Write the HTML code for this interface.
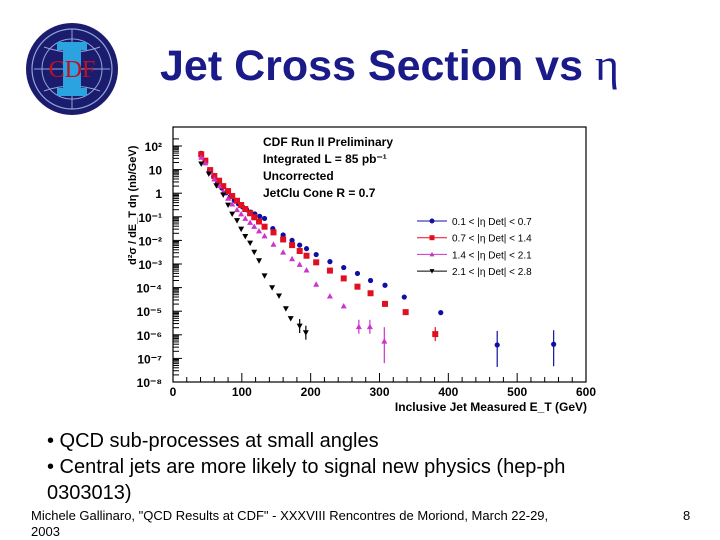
<!DOCTYPE html>
<html><head><meta charset="utf-8"><style>
body{margin:0;width:720px;height:540px;background:#fff;overflow:hidden;font-family:"Liberation Sans",sans-serif;position:relative}
.t{position:absolute;white-space:nowrap}
</style></head><body>
<svg style="position:absolute;left:24px;top:22px" width="96" height="96" viewBox="0 0 96 96">
<circle cx="48" cy="47" r="46" fill="#1c1c6e"/>
<circle cx="48" cy="47" r="40" fill="none" stroke="#8fa6d8" stroke-width="1.2"/>
<circle cx="48" cy="47" r="30" fill="none" stroke="#8fa6d8" stroke-width="1"/>
<path d="M10 47 H86 M48 7 V87 M20 25 Q48 35 76 25 M20 69 Q48 59 76 69" stroke="#8fa6d8" fill="none" stroke-width="1"/>
<rect x="33" y="20" width="30" height="8" fill="#2aa3e0"/>
<rect x="33" y="66" width="30" height="8" fill="#2aa3e0"/>
<rect x="39" y="26" width="18" height="42" fill="#2aa3e0"/>
<text x="48" y="55" text-anchor="middle" font-family="Liberation Serif,serif" font-size="24" fill="#c01020">CDF</text>
</svg>
<div class="t" style="left:160px;top:38px;font-size:43px;font-weight:bold;color:#1a1a88">Jet Cross Section vs <span style="font-family:'Liberation Serif',serif;font-weight:normal;font-size:46px">η</span></div>
<svg id="chart" style="position:absolute;left:0;top:0" width="720" height="540"></svg>
<div class="t" style="left:47px;top:430px;font-size:20px">• QCD sub-processes at small angles</div>
<div class="t" style="left:47px;top:456px;font-size:20px">• Central jets are more likely to signal new physics (hep-ph</div>
<div class="t" style="left:47px;top:482px;font-size:20px">0303013)</div>
<div class="t" style="left:31px;top:508px;font-size:13px;line-height:16px">Michele Gallinaro, "QCD Results at CDF" - XXXVIII Rencontres de Moriond, March 22-29,<br>2003</div>
<div class="t" style="left:683px;top:508px;font-size:13px">8</div>
<script>
const xTicks=[0,100,200,300,400,500,600];
const yTicks=[2,1,0,-1,-2,-3,-4,-5,-6,-7,-8];
const yTickLabels=["10²","10","1","10⁻¹","10⁻²","10⁻³","10⁻⁴","10⁻⁵","10⁻⁶","10⁻⁷","10⁻⁸"];
const seriesNames=["0.1 < |η Det| < 0.7","0.7 < |η Det| < 1.4","1.4 < |η Det| < 2.1","2.1 < |η Det| < 2.8"];
const blueX=[41,47,53,59,65,71,77,83,89,95,101,107,113,119,126,133,145,160,173,184,194,208,228,248,268,287,308,336,389,471,553];
const blueY=[1.69,1.35,0.98,0.7,0.45,0.22,0.02,-0.15,-0.3,-0.45,-0.58,-0.7,-0.8,-0.88,-0.98,-1.07,-1.5,-1.77,-2.0,-2.2,-2.35,-2.6,-2.9,-3.15,-3.4,-3.7,-3.9,-4.4,-5.06,-6.43,-6.4];
const redX=[41,47,54,60,67,73,80,86,93,99,105,112,118,125,133,146,160,173,184,194,208,228,248,268,287,308,338,381];
const redY=[1.65,1.38,0.98,0.73,0.53,0.3,0.09,-0.12,-0.32,-0.5,-0.67,-0.85,-1.02,-1.2,-1.42,-1.66,-1.96,-2.2,-2.45,-2.65,-2.93,-3.28,-3.61,-3.96,-4.24,-4.69,-5.04,-5.97];
const magX=[41,47,54,60,67,73,80,86,93,99,105,112,118,125,133,146,160,173,184,194,208,228,248,270,286,307];
const magY=[1.52,1.28,0.88,0.6,0.32,0.06,-0.22,-0.46,-0.7,-0.88,-1.07,-1.24,-1.41,-1.6,-1.81,-2.17,-2.5,-2.78,-3.02,-3.26,-3.86,-4.36,-4.78,-5.66,-5.66,-6.27];
const blkX=[41,52,63,73,80,86,93,99,105,112,118,125,133,144,154,164,171,184,193];
const blkY=[1.24,0.82,0.32,-0.07,-0.5,-0.88,-1.16,-1.52,-1.83,-2.11,-2.5,-2.86,-3.5,-4.0,-4.35,-4.89,-5.31,-5.63,-5.91];
const NS="http://www.w3.org/2000/svg";
const svg=document.getElementById('chart');
const X0=173,X1=586,Y0=146,Y1=382;
const sx=v=>X0+(v-0)*(X1-X0)/600;
const sy=l=>Y0+(2-l)*(Y1-Y0)/10;
function mk(tag,at,parent){const e=document.createElementNS(NS,tag);for(const k in at)e.setAttribute(k,at[k]);(parent||svg).appendChild(e);return e;}
let fr=mk('rect',{x:X0,y:127,width:X1-X0,height:Y1-127,fill:'none',stroke:'#000','stroke-width':1.2});


for(let v=0;v<=600;v+=20){mk('line',{x1:sx(v),x2:sx(v),y1:Y1,y2:Y1-(v%100?5:9),stroke:'#000'});}
xTicks.forEach(v=>{let t=mk('text',{x:sx(v),y:Y1+14,'text-anchor':'middle','font-size':12,'font-weight':'bold'});t.textContent=v;

});
for(let d=-8;d<=2;d++){for(let m=1;m<10;m++){const l=d+Math.log10(m);if(l>2.4)break;mk('line',{x1:X0,x2:X0+(m==1?9:6),y1:sy(l),y2:sy(l),stroke:'#000','stroke-width':1});}}
yTicks.forEach((v,i)=>{let t=mk('text',{x:162,y:sy(v)+5,'text-anchor':'end','font-size':12,'font-weight':'bold'});t.textContent=yTickLabels[i];

});
let yt=mk('text',{transform:'translate(136,265) rotate(-90)','font-size':11,'font-weight':'bold'});yt.textContent='d²σ / dE_T dη   (nb/GeV)';


let xt=mk('text',{x:587,y:411,'text-anchor':'end','font-size':12,'font-weight':'bold'});xt.textContent='Inclusive Jet Measured E_T   (GeV)';


['CDF Run II Preliminary','Integrated L = 85 pb⁻¹','Uncorrected','JetClu Cone R = 0.7'].forEach((s,i)=>{let t=mk('text',{x:263,y:146+i*17,'font-size':12,'font-weight':'bold'});t.textContent=s;

});
function marker(kind,x,y,c,s){
 if(kind==0)return mk('circle',{cx:x,cy:y,r:s,fill:c});
 if(kind==1)return mk('rect',{x:x-s,y:y-s,width:2*s,height:2*s,fill:c});
 if(kind==2)return mk('polygon',{points:`${x},${y-s} ${x-s},${y+s*0.8} ${x+s},${y+s*0.8}`,fill:c});
 return mk('polygon',{points:`${x},${y+s} ${x-s},${y-s*0.8} ${x+s},${y-s*0.8}`,fill:c});
}
const series=[[blueX,blueY,'#1010a0',0,2.6],[redX,redY,'#e01020',1,3],[magX,magY,'#cc33cc',2,3],[blkX,blkY,'#000',3,3]];
const names=['series-eta-0.1-0.7','series-eta-0.7-1.4','series-eta-1.4-2.1','series-eta-2.1-2.8'];
series.forEach(([xs,ys,c,k,s],si)=>{xs.forEach((x,i)=>{
 const px=sx(x),py=sy(ys[i]);
 if(ys[i]<-5.4){mk('line',{x1:px,x2:px,y1:py-(ys[i]<-6.1?14:7),y2:py+(ys[i]<-6.1?22:7),stroke:c,'stroke-width':1.2});}
 const m=marker(k,px,py,c,s);
 
 
});});
seriesNames.forEach((n,i)=>{const y=221+i*16.7;const c=series[i][2];
 mk('line',{x1:417,x2:447,y1:y,y2:y,stroke:c,'stroke-width':1});
 marker(series[i][3],432,y,c,2.5);
 let t=mk('text',{x:452,y:y+4,'font-size':10});
 t.textContent=n;
 
 });
</script>
</body></html>
